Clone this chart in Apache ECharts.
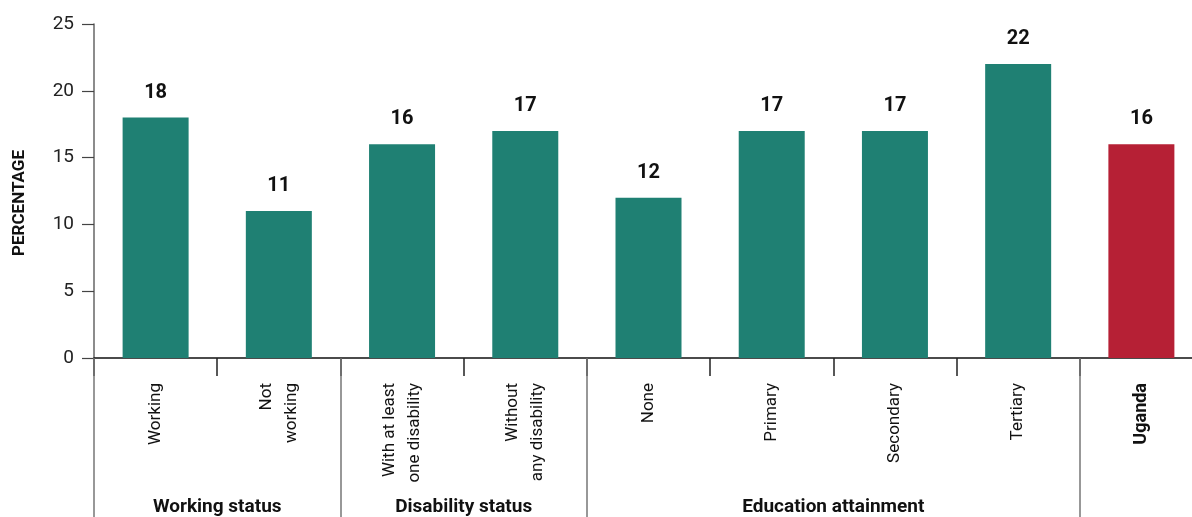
<!DOCTYPE html>
<html>
<head>
<meta charset="utf-8">
<script src="https://cdn.jsdelivr.net/npm/echarts@6/dist/echarts.min.js"></script>
<style>
  html, body { margin: 0; padding: 0; background: #fff; }
  #chart { width: 1192px; height: 517px; }
</style>
</head>
<body>
<div id="chart"></div>
<script>
// Categories along the x axis (line breaks are part of the label text)
const categories = [
  'Working', 'Not\nworking',
  'With at least\none disability', 'Without\nany disability',
  'None', 'Primary', 'Secondary', 'Tertiary',
  'Uganda'
];
// Percentage per category
const values = [18, 11, 16, 17, 12, 17, 17, 22, 16];
// Index of the national total bar (drawn in red, bold label)
const highlightIndex = 8;

// Category groups: [first index, end index (exclusive)] and their titles
const groupSpans = [[0, 2], [2, 4], [4, 8], [8, 9]];
const groupNames = ['Working status', 'Disability status', 'Education attainment', ''];

// Y axis scale
const yMin = 0, yMax = 25, yStep = 5;
const yTitle = 'PERCENTAGE';

const FONT = 'Roboto, "Noto Sans", sans-serif';
const TEAL = '#1f8073';
const RED = '#b62035';

// Group title positions (centre of each span) and group start boundaries
const groupLabelByPos = {};
groupSpans.forEach(([a, b], i) => { if (groupNames[i]) groupLabelByPos[(a + b) / 2] = groupNames[i]; });
const groupStarts = groupSpans.map(s => s[0]);

const chart = echarts.init(document.getElementById('chart'), null, { renderer: 'canvas' });

chart.setOption({
  animation: false,
  grid: { left: 94, top: 24, width: 1109, height: 334, containLabel: false, outerBoundsMode: 'none' },
  xAxis: [
    {
      type: 'category',
      data: categories,
      position: 'bottom',
      axisLine: { show: true, lineStyle: { color: '#111', width: 1.5 } },
      axisTick: { show: true, length: 18, lineStyle: { color: '#222', width: 1.5 } },
      axisLabel: {
        rotate: 90,
        margin: 25,
        interval: 0,
        fontFamily: FONT,
        fontSize: 17,
        lineHeight: 25,
        color: '#111',
        formatter: (v, i) => i === highlightIndex ? '{b|' + v + '}' : v,
        rich: { b: { fontFamily: FONT, fontSize: 18, fontWeight: 'bold', color: '#111' } }
      },
      splitLine: { show: false }
    },
    {
      // long separators between category groups
      type: 'category',
      data: categories,
      position: 'bottom',
      axisLine: { show: false },
      axisTick: {
        show: true,
        length: 170,
        interval: (i) => groupStarts.indexOf(i) >= 0,
        lineStyle: { color: '#777', width: 1.5 }
      },
      axisLabel: { show: false },
      splitLine: { show: false }
    },
    {
      // group titles centred under each span
      type: 'value',
      min: 0,
      max: categories.length,
      interval: 1,
      position: 'bottom',
      axisLine: { show: false },
      axisTick: { show: false },
      splitLine: { show: false },
      axisLabel: {
        margin: 140,
        verticalAlign: 'top',
        showMinLabel: true,
        showMaxLabel: true,
        fontFamily: FONT,
        fontSize: 19,
        fontWeight: 'bold',
        color: '#111',
        formatter: (v) => groupLabelByPos[v] || ''
      }
    }
  ],
  yAxis: {
    type: 'value',
    min: yMin,
    max: yMax,
    interval: yStep,
    name: yTitle,
    nameLocation: 'middle',
    nameRotate: 90,
    nameGap: 66,
    nameTextStyle: { fontFamily: FONT, fontSize: 17, fontWeight: 'bold', color: '#111', padding: [0, 24, 0, 0] },
    axisLine: { show: true, lineStyle: { color: '#666', width: 1.5 } },
    axisTick: { show: true, length: 12, lineStyle: { color: '#444', width: 1.2 } },
    axisLabel: { margin: 20, fontFamily: FONT, fontSize: 19, color: '#222' },
    splitLine: { show: false }
  },
  series: [{
    type: 'bar',
    xAxisIndex: 0,
    barWidth: 66,
    data: values.map((v, i) => ({
      value: v,
      itemStyle: { color: i === highlightIndex ? RED : TEAL }
    })),
    label: {
      show: true,
      position: 'top',
      distance: 15,
      fontFamily: FONT,
      fontSize: 20,
      fontWeight: 'bold',
      color: '#111'
    }
  }]
});
</script>
</body>
</html>
